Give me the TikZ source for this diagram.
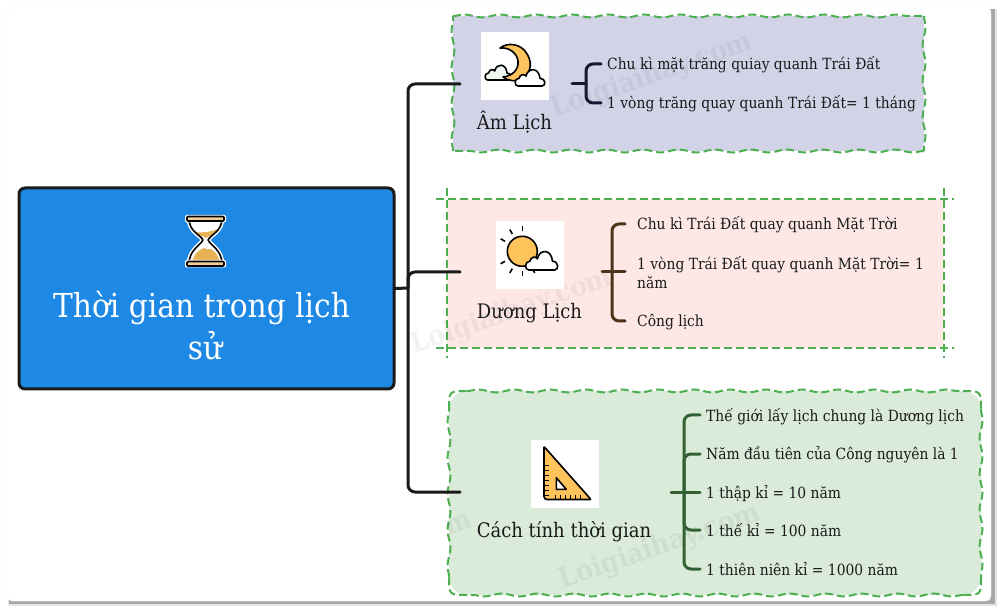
\documentclass[tikz,border=0pt]{standalone}
\usepackage{fontspec}
\setmainfont{DejaVu Serif Condensed}
\usetikzlibrary{decorations.pathmorphing}
\definecolor{rootblue}{HTML}{1E88E5}
\definecolor{inkdark}{HTML}{1A1A1A}
\definecolor{wavegreen}{HTML}{4CAF50}
\definecolor{amfill}{HTML}{D2D3E6}
\definecolor{duongfill}{HTML}{FDE8E6}
\definecolor{cachfill}{HTML}{DAEBD9}
\definecolor{sunny}{HTML}{FFC35B}
\definecolor{sand}{HTML}{E8B355}
\tikzstyle{root} = [rectangle, rounded corners=6pt, minimum width=375pt, minimum height=201pt, fill=rootblue, draw=inkdark, line width=3pt]
\tikzstyle{roottext} = [anchor=base, text=white, font=\fontsize{33}{38}\selectfont, inner sep=0pt]
\tikzstyle{plainbox} = [rectangle, inner sep=0pt, outer sep=0pt]
\tikzstyle{wavyline} = [wavegreen, line width=2pt, dash pattern=on 8pt off 4pt, decorate, decoration={snake, segment length=36pt, amplitude=1.5pt}]
\tikzstyle{crossline} = [wavegreen, line width=2pt, dash pattern=on 8pt off 4pt]
\tikzstyle{iconbox} = [rectangle, fill=white, minimum width=68pt, minimum height=68pt, inner sep=0pt]
\tikzstyle{topic} = [anchor=base, text=inkdark, font=\fontsize{20}{24}\selectfont, inner sep=0pt]
\tikzstyle{leaf} = [anchor=west, align=left, text=inkdark, font=\fontsize{15.4}{19}\selectfont, inner sep=0pt, text height=14pt, text depth=2pt]
\tikzstyle{trunk} = [inkdark, line width=3pt, rounded corners=7pt, line cap=round]
\tikzstyle{bracket} = [line width=3pt, rounded corners=7pt, line cap=round]
\tikzstyle{watermark} = [text=black, opacity=.05, font=\bfseries\fontsize{28}{30}\selectfont, rotate=19]
\tikzstyle{iconline} = [black, line width=1.6pt, line join=round]
\tikzset{cloudpic/.pic={
    \draw [iconline, fill=#1] (3,0) .. controls (-1,0) and (-1,-7) .. (4,-7) .. controls (5,-11) and (10,-11) .. (11,-9) .. controls (13,-17) and (24,-17) .. (25,-7) .. controls (31,-7) and (31,0) .. (27,0) -- cycle;
}}
\begin{document}
\begin{tikzpicture}[x=1pt, y=-1pt]
            \useasboundingbox (0,0) rectangle (1002,612);
            % card and its shadow
            \fill [gray!20] (8,9) rectangle (997,606);
            \fill [gray!70] (9,9) rectangle (995,604);
            \fill [white, draw=black!3, rounded corners=5pt] (7,7) rectangle (991,601);

            % boxes
            \node [plainbox, fill=amfill, minimum width=471pt, minimum height=135pt] at (688.5,83.5) (amBox) {};
            \node [plainbox, fill=duongfill, minimum width=497pt, minimum height=149pt] at (695.5,273.5) (duongBox) {};
            \node [plainbox, fill=cachfill, rounded corners=18pt, minimum width=532pt, minimum height=204pt] at (715,493) (cachBox) {};

            \draw [wavyline] (amBox.north west) -- (amBox.north east);
            \draw [wavyline] (amBox.north east) -- (amBox.south east);
            \draw [wavyline] (amBox.south east) -- (amBox.south west);
            \draw [wavyline] (amBox.south west) -- (amBox.north west);

            \draw [crossline] ([xshift=-11pt]duongBox.north west) -- ([xshift=10pt]duongBox.north east);
            \draw [crossline] ([xshift=-11pt]duongBox.south west) -- ([xshift=10pt]duongBox.south east);
            \draw [crossline] ([yshift=11pt]duongBox.north west) -- ([yshift=-10pt]duongBox.south west);
            \draw [crossline] ([yshift=11pt]duongBox.north east) -- ([yshift=-10pt]duongBox.south east);

            \draw [wavyline] ([xshift=18pt]cachBox.north west) -- ([xshift=-18pt]cachBox.north east);
            \draw [wavyline] ([yshift=-18pt]cachBox.north east) -- ([yshift=18pt]cachBox.south east);
            \draw [wavyline] ([xshift=-18pt]cachBox.south east) -- ([xshift=18pt]cachBox.south west);
            \draw [wavyline] ([yshift=18pt]cachBox.south west) -- ([yshift=-18pt]cachBox.north west);
            \draw [crossline] ([yshift=-18pt]cachBox.north west) .. controls (cachBox.north west) .. ([xshift=18pt]cachBox.north west);
            \draw [crossline] ([xshift=-18pt]cachBox.north east) .. controls (cachBox.north east) .. ([yshift=-18pt]cachBox.north east);
            \draw [crossline] ([yshift=18pt]cachBox.south east) .. controls (cachBox.south east) .. ([xshift=-18pt]cachBox.south east);
            \draw [crossline] ([xshift=18pt]cachBox.south west) .. controls (cachBox.south west) .. ([yshift=18pt]cachBox.south west);

            % watermarks
            \node [watermark] at (652,76) (markOne) {Loigiaihay.com};
            \node [watermark] at (512,312) (markTwo) {Loigiaihay.com};
            \node [watermark] at (660,547) (markThree) {Loigiaihay.com};
            \node [watermark] at (459,524) (markFour) {m};

            % root
            \node [root] at (206.5,288.5) (root) {};
            \node [roottext] at (201.5,317.5) (rootLineOne) {Thời gian trong lịch};
            \node [roottext] at (205,360) (rootLineTwo) {sử};

            % hourglass
            \draw [white, line width=4.5pt, line join=round] (189,218) .. controls (189,232) and (200,234) .. (203,240) .. controls (200,246) and (189,250) .. (189,264) -- (222,264) .. controls (222,250) and (211,246) .. (208,240) .. controls (211,234) and (222,232) .. (222,218) -- cycle;
            \fill [white] (189,218) .. controls (189,232) and (200,234) .. (203,240) .. controls (200,246) and (189,250) .. (189,264) -- (222,264) .. controls (222,250) and (211,246) .. (208,240) .. controls (211,234) and (222,232) .. (222,218) -- cycle;
            \fill [sand] (194,232) .. controls (203,233) and (210,232) .. (218,229) .. controls (215,235) and (209,236) .. (206,238) .. controls (203,236) and (198,235) .. (194,232) -- cycle;
            \fill [sand] (192,263) .. controls (194,254) and (197,251) .. (204,248) .. controls (206,250) and (208,249) .. (211,249) .. controls (216,252) and (219,257) .. (220,263) -- cycle;
            \draw [iconline] (189,218) .. controls (189,232) and (200,234) .. (203,240) .. controls (200,246) and (189,250) .. (189,264) -- (222,264) .. controls (222,250) and (211,246) .. (208,240) .. controls (211,234) and (222,232) .. (222,218);
            \draw [draw=white, line width=1pt, fill=sand!60!white, rounded corners=1pt] (185.5,215.5) rectangle (225.5,222);
            \draw [draw=white, line width=1pt, fill=sand!60!white, rounded corners=1pt] (185.5,260.5) rectangle (225.5,267);
            \draw [iconline, fill=sand!60!white, rounded corners=1pt] (187,216.5) rectangle (224,221);
            \draw [iconline, fill=sand!60!white, rounded corners=1pt] (187,261.5) rectangle (224,266);

            % moon
            \node [iconbox] at (515,66) (amIcon) {};
            \pic [xscale=.88] at (485,80) {cloudpic=cachfill!40!white};
            \draw [iconline, fill=sunny] (500,48) .. controls (508,42) and (519,44) .. (525,51) .. controls (533,61) and (532,72) .. (522,79) .. controls (516,82) and (508,81) .. (503,77) .. controls (513,76) and (519,69) .. (518,61) .. controls (517,53) and (509,47) .. (500,48) -- cycle;
            \pic [yscale=1.1] at (515,86) {cloudpic=white};
            \node [topic] at (514.5,130) (amLabel) {Âm Lịch};

            % sun
            \node [iconbox] at (530,255) (duongIcon) {};
            \foreach \a in {30,60,90,120,150,210,240,270}
                \draw [iconline] (522.3,251.3) ++(\a:20) -- ++(\a:5);
            \draw [iconline, fill=sunny] (522.3,251.3) circle (15);
            \pic [xscale=1.08, yscale=1.25] at (525.5,270) {cloudpic=white};
            \node [topic] at (529.5,318.5) (duongLabel) {Dương Lịch};

            % set square
            \node [iconbox] at (565,474) (cachIcon) {};
            \draw [iconline, fill=sunny, rounded corners=.7pt] (544,446.5) -- (591,499.5) -- (547,499.5) [rounded corners=3pt] -- (544,499.5) [rounded corners=.7pt] -- cycle;
            \foreach \y in {465,470,475,480,485,490,495}
                \draw [iconline, line width=1pt] (544,\y) -- ++(5,0);
            \foreach \x in {555,560,565,570,575,580}
                \draw [iconline, line width=1pt] (\x,499.5) -- ++(0,-5);
            \draw [iconline, fill=white] (556.3,477.7) -- (566.3,489.3) -- (556.3,489.3) -- cycle;
            \node [topic] at (564,537.5) (cachLabel) {Cách tính thời gian};

            % leaves
            \node [leaf] at (607,64) (amOne) {Chu kì mặt trăng quiay quanh Trái Đất};
            \node [leaf] at (607,103) (amTwo) {1 vòng trăng quay quanh Trái Đất= 1 tháng};

            \node [leaf] at (637,224) (duongOne) {Chu kì Trái Đất quay quanh Mặt Trời};
            \node [leaf] at (637,283) (duongTwo) {1 vòng Trái Đất quay quanh Mặt Trời= 1\\năm};
            \node [leaf] at (637,321) (duongThree) {Công lịch};

            \node [leaf] at (706,415) (cachOne) {Thế giới lấy lịch chung là Dương lịch};
            \node [leaf] at (706,454) (cachTwo) {Năm đầu tiên của Công nguyên là 1};
            \node [leaf] at (706,492) (cachThree) {1 thập kỉ = 10 năm};
            \node [leaf] at (706,530) (cachFour) {1 thế kỉ = 100 năm};
            \node [leaf] at (706,569) (cachFive) {1 thiên niên kỉ = 1000 năm};

            % free ends
            \coordinate (trunkHub) at (408,288);
            \coordinate (amStub) at (460,84);
            \coordinate (duongStub) at (460,272);
            \coordinate (cachStub) at (460,492);
            \coordinate (amFrom) at (572,84);
            \coordinate (amHub) at (586,84);
            \coordinate (duongFrom) at (602,272);
            \coordinate (duongHub) at (612,272);
            \coordinate (cachFrom) at (671,492);
            \coordinate (cachHub) at (684,492);

            % connectors
            \draw [trunk] (root.east) -- (trunkHub);
            \draw [trunk] (trunkHub) |- (amStub);
            \draw [trunk] (trunkHub) |- (duongStub);
            \draw [trunk] (trunkHub) |- (cachStub);

            \draw [bracket, inkdark!90!blue] (amFrom) -- (amHub);
            \draw [bracket, inkdark!90!blue] (amHub) |- ([xshift=-6pt]amOne.west);
            \draw [bracket, inkdark!90!blue] (amHub) |- ([xshift=-6pt]amTwo.west);

            \draw [bracket, black!60!brown] (duongFrom) -- ([xshift=-12pt]duongTwo.west |- duongFrom);
            \draw [bracket, black!60!brown] (duongHub) |- ([xshift=-12pt]duongOne.west);
            \draw [bracket, black!60!brown] (duongHub) |- ([xshift=-12pt]duongThree.west);

            \draw [bracket, black!70!green!60!gray] (cachFrom) -- ([xshift=-6pt]cachThree.west);
            \draw [bracket, black!70!green!60!gray] (cachHub) |- ([xshift=-6pt]cachOne.west);
            \draw [bracket, black!70!green!60!gray] (cachHub) |- ([xshift=-6pt]cachTwo.west);
            \draw [bracket, black!70!green!60!gray] (cachHub) |- ([xshift=-6pt]cachFour.west);
            \draw [bracket, black!70!green!60!gray] (cachHub) |- ([xshift=-6pt]cachFive.west);
            \end{tikzpicture}
\end{document}
